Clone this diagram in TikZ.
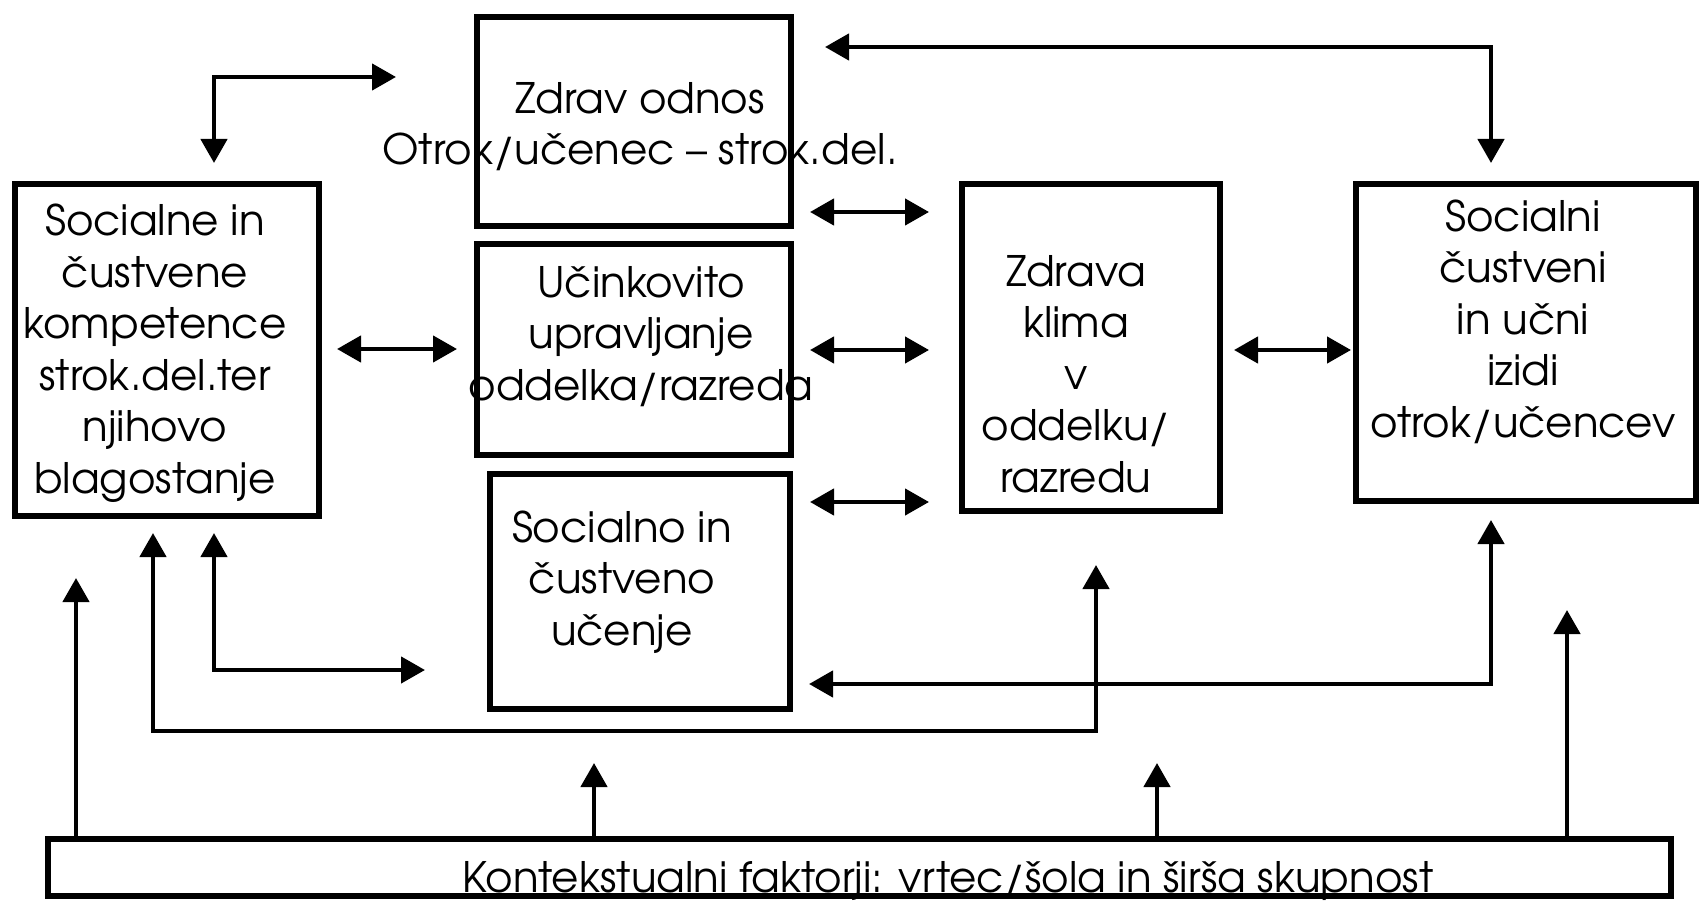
\documentclass[tikz,border=0pt]{standalone}
\usepackage{fontspec}
\setmainfont{texgyreadventor-regular.otf}
\usetikzlibrary{arrows.meta}
\begin{document}
\begin{tikzpicture}[x=1pt,y=-1pt,
  hd/.tip={Triangle[length=24pt,width=26pt]},
  box/.style={draw, line width=6.5pt, rectangle, inner sep=0pt},
  conntwo/.style={line width=4.5pt, hd-hd},
  connone/.style={line width=4.5pt, -hd},
  txt/.style={align=center, inner sep=0pt, anchor=base, font=\fontsize{42}{51.5}\selectfont}]
\useasboundingbox (0,0) rectangle (1702,901);
\fill[white] (0,0) rectangle (1702,901);
% boxes
\node[box, minimum width=304pt, minimum height=332pt] (A) at (167,350) {};
\node[box, minimum width=314pt, minimum height=209pt] (B) at (634,121.5) {};
\node[box, minimum width=314pt, minimum height=211pt] (C) at (634,349.5) {};
\node[box, minimum width=300pt, minimum height=235pt] (D) at (640,591.5) {};
\node[box, minimum width=258pt, minimum height=327pt] (E) at (1091,347.5) {};
\node[box, minimum width=340pt, minimum height=317pt] (F) at (1526,342.5) {};
\node[box, minimum width=1623pt, minimum height=57pt] (G) at (859.5,867.5) {};
% texts (anchor = baseline of the last line)
\node[txt] (tA) at (155,493) {Socialne in\\čustvene\\kompetence\\strok.del.ter\\njihovo\\blagostanje};
\node[txt] (tB) at (640,165) {Zdrav odnos\\Otrok/učenec – strok.del.};
\node[txt] (tC) at (641,400) {Učinkovito\\upravljanje\\oddelka/razreda};
\node[txt] (tD) at (622,645) {Socialno in\\čustveno\\učenje};
\node[txt] (tE) at (1076,492) {Zdrava\\klima\\v\\oddelku/\\razredu};
\node[txt] (tF) at (1523,437) {Socialni\\čustveni\\in učni\\izidi\\otrok/učencev};
\node[txt] (tG) at (948,892) {Kontekstualni faktorji: vrtec/šola in širša skupnost};
% connector ends
\coordinate (ab1) at (214,163); \coordinate (ab2) at (396,77);
\coordinate (bf1) at (825,47);  \coordinate (bf2) at (1491,163);
\coordinate (ac1) at (337,349); \coordinate (ac2) at (457,349);
\coordinate (be1) at (810,212); \coordinate (be2) at (929,212);
\coordinate (ce1) at (810,350); \coordinate (ce2) at (929,350);
\coordinate (de1) at (810,502); \coordinate (de2) at (929,502);
\coordinate (ef1) at (1234,350); \coordinate (ef2) at (1351,350);
\coordinate (ad1) at (214,533); \coordinate (ad2) at (425,670);
\coordinate (ae1) at (153,533); \coordinate (aeb) at (153,731); \coordinate (ae2) at (1096,565);
\coordinate (fd1) at (1491,520); \coordinate (fd2) at (809,684);
\coordinate (ga) at (76,578); \coordinate (gd) at (594,763);
\coordinate (ge) at (1157,763); \coordinate (gf) at (1567,610);
% connectors
\draw[conntwo] (ab1) |- (ab2);
\draw[conntwo] (bf1) -| (bf2);
\draw[conntwo] (ac1) -- (ac2);
\draw[conntwo] (be1) -- (be2);
\draw[conntwo] (ce1) -- (ce2);
\draw[conntwo] (de1) -- (de2);
\draw[conntwo] (ef1) -- (ef2);
\draw[conntwo] (ad1) |- (ad2);
\draw[conntwo] (ae1) -- (aeb) -| (ae2);
\draw[conntwo] (fd1) |- (fd2);
\draw[connone] (G.north -| ga) -- (ga);
\draw[connone] (G.north -| gd) -- (gd);
\draw[connone] (G.north -| ge) -- (ge);
\draw[connone] (G.north -| gf) -- (gf);
\end{tikzpicture}
\end{document}
